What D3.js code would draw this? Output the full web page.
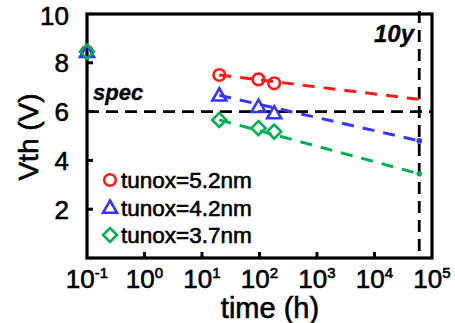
<!DOCTYPE html>
<html><head><meta charset="utf-8">
<script src="https://cdn.jsdelivr.net/npm/d3@7"></script>
<style>
html,body{margin:0;padding:0;background:#fff;}
svg{display:block;font-family:"Liberation Sans",Arial,sans-serif;}
text{stroke:#000;stroke-width:0.6px;fill:#000;}
</style></head>
<body>
<svg id="chart" width="455" height="323"></svg>
<script>
// ---- data ----
const seriesNames = ["tunox=5.2nm", "tunox=4.2nm", "tunox=3.7nm"];
const seriesColors = ["#ff1a1a", "#3535ff", "#00b050"];
const seriesShapes = ["circle", "triangle", "diamond"];
const initialTime = 0.1;
const initialVth = [8.45, 8.45, 8.45];
const measTimes = [20, 96, 180];
const measVth = [
  [7.5, 7.32, 7.16],
  [6.67, 6.2, 5.94],
  [5.66, 5.32, 5.18]
];
const tenYearTime = 6e4;
const extrapVth = [6.5, 4.8, 3.45];
const showEndDot = [false, true, true];
const specVth = 6;
const yTicks = [2, 4, 6, 8, 10];
const xTickExps = [-1, 0, 1, 2, 3, 4, 5];

// ---- layout ----
const svg = d3.select("#chart");
const L = 87, R = 432, T = 14, B = 258;
const x = d3.scaleLog().domain([0.1, 1e5]).range([L, R]);
const y = d3.scaleLinear().domain([0, 10]).range([B, T]);

// frame
svg.append("rect").attr("x", L).attr("y", T).attr("width", R - L).attr("height", B - T)
  .attr("fill", "none").attr("stroke", "#000").attr("stroke-width", 3.2);

// y ticks (inward)
svg.append("g").selectAll("line").data(yTicks.filter(d => d < 10)).join("line")
  .attr("x1", L).attr("x2", L + 6).attr("y1", d => y(d)).attr("y2", d => y(d))
  .attr("stroke", "#000").attr("stroke-width", 3);
svg.append("g").selectAll("text").data(yTicks).join("text")
  .attr("x", 69).attr("y", d => y(d)).attr("dy", d => d === 10 ? "0.42em" : "0.36em")
  .attr("text-anchor", "end").attr("font-size", 26).text(d => d);

// x ticks (inward)
svg.append("g").selectAll("line").data(xTickExps.slice(1, -1)).join("line")
  .attr("x1", d => x(Math.pow(10, d))).attr("x2", d => x(Math.pow(10, d)))
  .attr("y1", B).attr("y2", B - 6).attr("stroke", "#000").attr("stroke-width", 3);
const xl = svg.append("g").selectAll("text").data(xTickExps).join("text")
  .attr("x", d => x(Math.pow(10, d))).attr("y", 288)
  .attr("text-anchor", "middle").attr("font-size", 26);
xl.append("tspan").text("10");
xl.append("tspan").attr("font-size", 15).attr("dy", -10).text(d => d);

// axis titles
svg.append("text").attr("x", 270).attr("y", 318).attr("text-anchor", "middle")
  .attr("font-size", 29).text("time (h)");
svg.append("text").attr("transform", "translate(38,137) rotate(-90)")
  .attr("text-anchor", "middle").attr("font-size", 28).text("Vth (V)");

// spec line
svg.append("line").attr("x1", L).attr("x2", R).attr("y1", y(specVth)).attr("y2", y(specVth))
  .attr("stroke", "#000").attr("stroke-width", 2.8).attr("stroke-dasharray", "12,7");
svg.append("text").attr("x", 93).attr("y", 100).attr("font-size", 22).style("stroke-width", "0.3px")
  .attr("font-weight", "bold").attr("font-style", "italic").text("spec");

// 10 year line
svg.append("line").attr("x1", x(tenYearTime)).attr("x2", x(tenYearTime)).attr("y1", 11).attr("y2", B)
  .attr("stroke", "#000").attr("stroke-width", 2.8).attr("stroke-dasharray", "12,7");
svg.append("text").attr("x", 414).attr("y", 42).attr("text-anchor", "end").attr("font-size", 24)
  .style("stroke-width", "0.3px")
  .attr("font-weight", "bold").attr("font-style", "italic").text("10y");

// marker helper
function marker(g, shape, color, cx, cy) {
  if (shape === "circle") {
    g.append("circle").attr("cx", cx).attr("cy", cy).attr("r", 5.8)
      .attr("fill", "none").attr("stroke", color).attr("stroke-width", 2.6);
  } else if (shape === "triangle") {
    const s = 7;
    g.append("path").attr("d", `M${cx},${cy - s}L${cx + s},${cy + s * 0.75}L${cx - s},${cy + s * 0.75}Z`)
      .attr("fill", "none").attr("stroke", color).attr("stroke-width", 2.6).attr("stroke-linejoin", "miter");
  } else {
    const s = 7;
    g.append("path").attr("d", `M${cx},${cy - s}L${cx + s},${cy}L${cx},${cy + s}L${cx - s},${cy}Z`)
      .attr("fill", "none").attr("stroke", color).attr("stroke-width", 2.6);
  }
}

// extrapolation lines
seriesNames.forEach((n, i) => {
  const pts = [[measTimes[0], measVth[i][0]], [tenYearTime, extrapVth[i]]];
  svg.append("path").attr("d", d3.line().x(d => x(d[0])).y(d => y(d[1]))(pts))
    .attr("fill", "none").attr("stroke", seriesColors[i]).attr("stroke-width", 3)
    .attr("stroke-dasharray", "12,9");
  if (showEndDot[i]) {
    svg.append("circle").attr("cx", x(tenYearTime)).attr("cy", y(extrapVth[i])).attr("r", 2.8)
      .attr("fill", seriesColors[i]);
  }
});

// markers
const mg = svg.append("g");
seriesNames.forEach((n, i) => {
  marker(mg, seriesShapes[i], seriesColors[i], x(initialTime), y(initialVth[i]));
  measTimes.forEach((t, j) => marker(mg, seriesShapes[i], seriesColors[i], x(t), y(measVth[i][j])));
});

// legend
const lg = svg.append("g");
seriesNames.forEach((n, i) => {
  const cy = 180 + i * 27.5;
  marker(lg, seriesShapes[i], seriesColors[i], 110, cy);
  lg.append("text").attr("x", 121).attr("y", cy).attr("dy", "0.36em")
    .attr("font-size", 22.5).text(n);
});
</script>
</body></html>
